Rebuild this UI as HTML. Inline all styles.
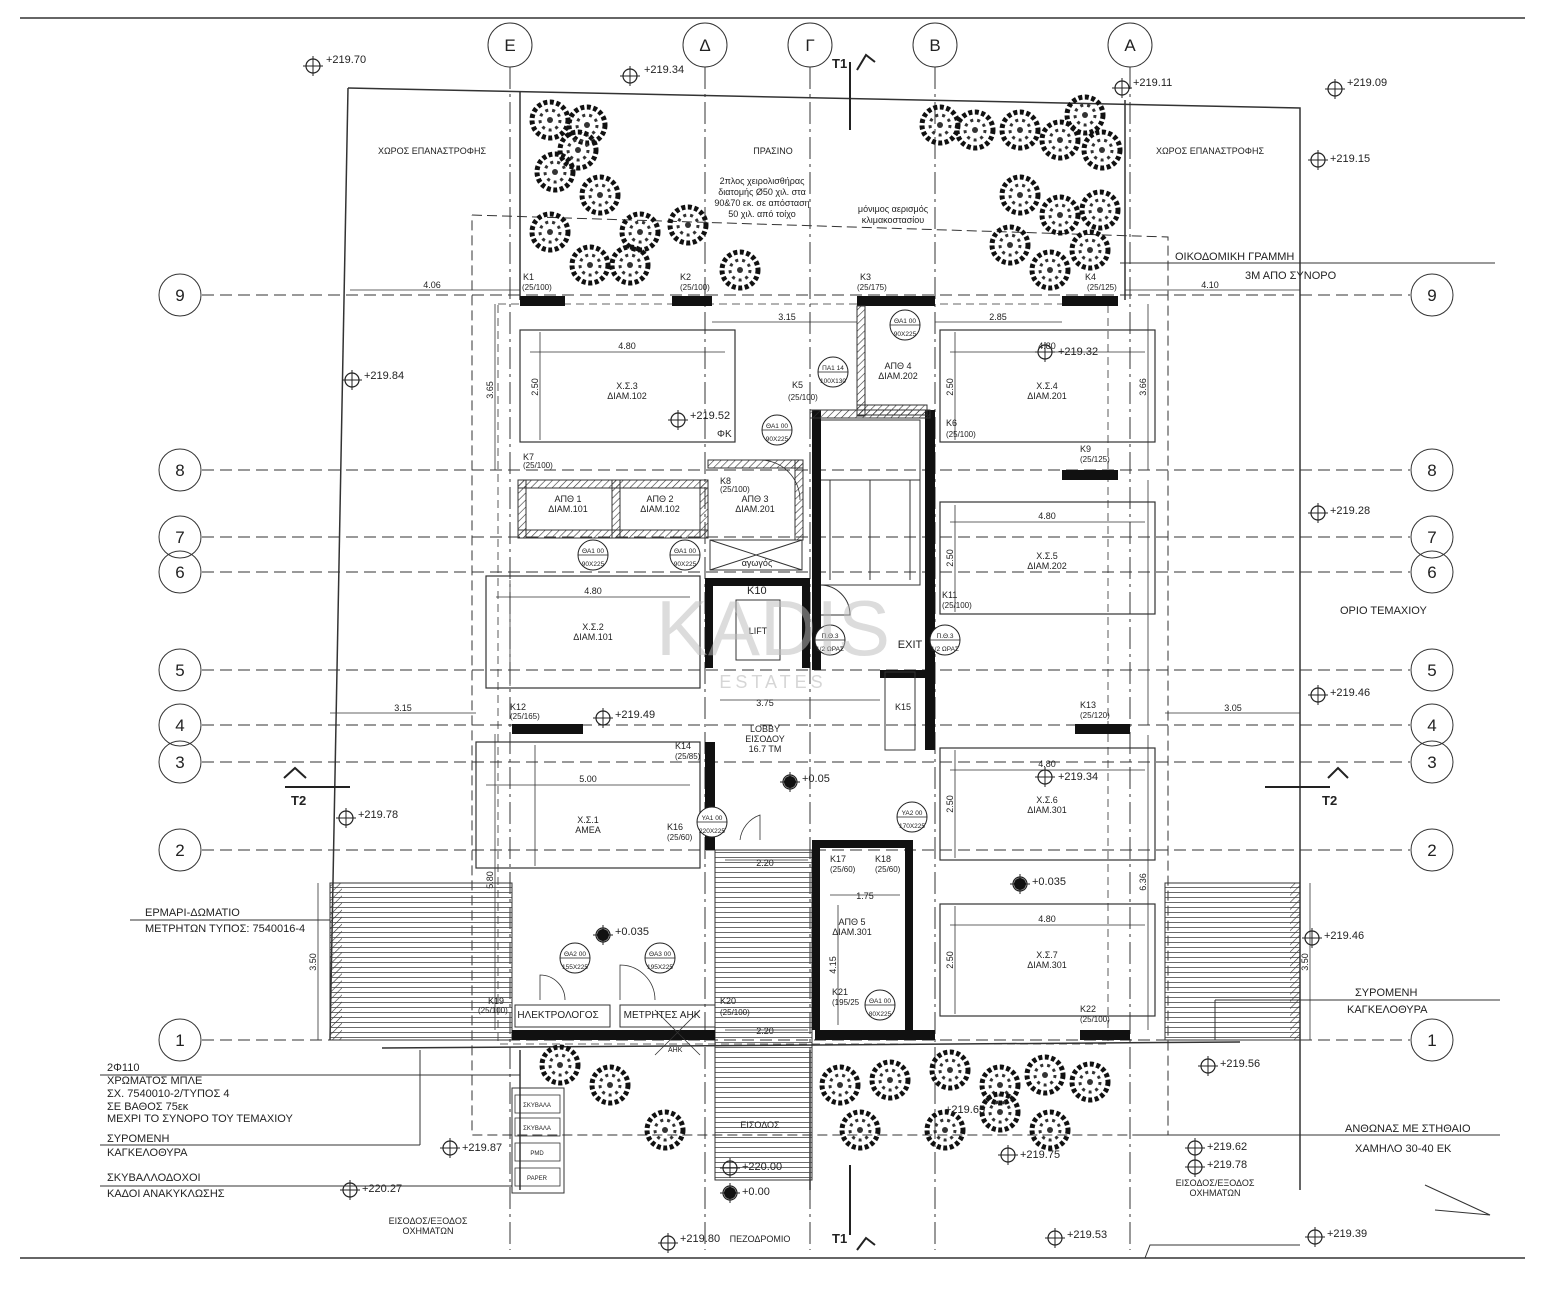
<!DOCTYPE html>
<html><head><meta charset="utf-8">
<style>
html,body{margin:0;padding:0;background:#fff;}
svg{display:block;font-family:"Liberation Sans",sans-serif;}
text{fill:#222;}
</style></head><body>
<svg width="1546" height="1290" viewBox="0 0 1546 1290" xmlns="http://www.w3.org/2000/svg">
<defs>
<pattern id="hl" width="10" height="5" patternUnits="userSpaceOnUse"><line x1="0" y1="2.5" x2="10" y2="2.5" stroke="#444" stroke-width="0.8"/></pattern>
<pattern id="hatch" width="5" height="5" patternUnits="userSpaceOnUse" patternTransform="rotate(45)"><line x1="0" y1="0" x2="0" y2="5" stroke="#333" stroke-width="1.2"/></pattern>
<g id="tree"><circle r="18" fill="none" stroke="#111" stroke-width="5" stroke-dasharray="4 2.5"/><circle r="10" fill="none" stroke="#333" stroke-width="3" stroke-dasharray="3 4"/><circle r="3" fill="#333"/></g>
<g id="lvl"><circle r="7" fill="none" stroke="#222" stroke-width="1.2"/><line x1="-10" y1="0" x2="10" y2="0" stroke="#222"/><line x1="0" y1="-10" x2="0" y2="10" stroke="#222"/></g>
<g id="dr"><circle r="15" fill="#fff" stroke="#222" stroke-width="1"/><line x1="-15" y1="0" x2="15" y2="0" stroke="#222" stroke-width="0.8"/></g>
</defs>

<line x1="20" y1="18" x2="1525" y2="18" stroke="#333" stroke-width="1.5"/>
<line x1="20" y1="1258" x2="1525" y2="1258" stroke="#333" stroke-width="1.5"/>

<g stroke="#333" stroke-width="1" fill="none">
<g stroke-dasharray="22 5 3 5">
<line x1="510" y1="67" x2="510" y2="1250"/><line x1="705" y1="67" x2="705" y2="1250"/>
<line x1="810" y1="67" x2="810" y2="1250"/><line x1="935" y1="67" x2="935" y2="1250"/>
<line x1="1130" y1="67" x2="1130" y2="1250"/>
</g>
<circle cx="510" cy="45" r="22"/><circle cx="705" cy="45" r="22"/><circle cx="810" cy="45" r="22"/><circle cx="935" cy="45" r="22"/><circle cx="1130" cy="45" r="22"/>
</g>
<g font-size="17" text-anchor="middle">
<text x="510" y="51">Ε</text><text x="705" y="51">Δ</text><text x="810" y="51">Γ</text><text x="935" y="51">Β</text><text x="1130" y="51">Α</text>
</g>

<g stroke="#333" stroke-width="1" fill="none">
<g stroke-dasharray="12 6">
<line x1="202" y1="295" x2="1410" y2="295"/><line x1="202" y1="470" x2="1410" y2="470"/>
<line x1="202" y1="537" x2="1410" y2="537"/><line x1="202" y1="572" x2="1410" y2="572"/>
<line x1="202" y1="670" x2="1410" y2="670"/><line x1="202" y1="725" x2="1410" y2="725"/>
<line x1="202" y1="762" x2="1410" y2="762"/><line x1="202" y1="850" x2="1410" y2="850"/>
<line x1="202" y1="1040" x2="1410" y2="1040"/>
</g>
<circle cx="180" cy="295" r="21"/><circle cx="180" cy="470" r="21"/><circle cx="180" cy="537" r="21"/><circle cx="180" cy="572" r="21"/><circle cx="180" cy="670" r="21"/><circle cx="180" cy="725" r="21"/><circle cx="180" cy="762" r="21"/><circle cx="180" cy="850" r="21"/><circle cx="180" cy="1040" r="21"/>
<circle cx="1432" cy="295" r="21"/><circle cx="1432" cy="470" r="21"/><circle cx="1432" cy="537" r="21"/><circle cx="1432" cy="572" r="21"/><circle cx="1432" cy="670" r="21"/><circle cx="1432" cy="725" r="21"/><circle cx="1432" cy="762" r="21"/><circle cx="1432" cy="850" r="21"/><circle cx="1432" cy="1040" r="21"/>
</g>
<g font-size="17" text-anchor="middle">
<text x="180" y="301">9</text><text x="180" y="476">8</text><text x="180" y="543">7</text><text x="180" y="578">6</text><text x="180" y="676">5</text><text x="180" y="731">4</text><text x="180" y="768">3</text><text x="180" y="856">2</text><text x="180" y="1046">1</text>
<text x="1432" y="301">9</text><text x="1432" y="476">8</text><text x="1432" y="543">7</text><text x="1432" y="578">6</text><text x="1432" y="676">5</text><text x="1432" y="731">4</text><text x="1432" y="768">3</text><text x="1432" y="856">2</text><text x="1432" y="1046">1</text>
</g>

<g fill="none" stroke="#333" stroke-width="1.5">
<polyline points="348,88 1300,108 1300,1190"/>
<line x1="348" y1="88" x2="330" y2="1040"/>
<line x1="520" y1="92" x2="520" y2="300"/>
<line x1="1125" y1="100" x2="1125" y2="300"/>
<line x1="382" y1="1048" x2="1240" y2="1042"/>
<line x1="810" y1="1050" x2="810" y2="1190"/>
<line x1="520" y1="1050" x2="520" y2="1190"/>
</g>
<g fill="none" stroke="#333" stroke-width="1" stroke-dasharray="10 5">
<polyline points="472,215 1168,237 1168,1135 472,1135 472,215"/>
</g>

<g>
<use href="#tree" x="550" y="120"/><use href="#tree" x="587" y="125"/><use href="#tree" x="555" y="172"/><use href="#tree" x="600" y="195"/><use href="#tree" x="550" y="232"/><use href="#tree" x="640" y="232"/><use href="#tree" x="590" y="265"/><use href="#tree" x="630" y="265"/><use href="#tree" x="688" y="225"/><use href="#tree" x="740" y="270"/><use href="#tree" x="578" y="150"/>
<use href="#tree" x="940" y="125"/><use href="#tree" x="975" y="130"/><use href="#tree" x="1020" y="130"/><use href="#tree" x="1060" y="140"/><use href="#tree" x="1102" y="150"/><use href="#tree" x="1020" y="195"/><use href="#tree" x="1060" y="215"/><use href="#tree" x="1100" y="210"/><use href="#tree" x="1010" y="245"/><use href="#tree" x="1050" y="270"/><use href="#tree" x="1090" y="250"/><use href="#tree" x="1085" y="115"/>
<use href="#tree" x="560" y="1065"/><use href="#tree" x="610" y="1085"/><use href="#tree" x="665" y="1130"/><use href="#tree" x="840" y="1085"/><use href="#tree" x="890" y="1080"/><use href="#tree" x="950" y="1070"/><use href="#tree" x="1000" y="1085"/><use href="#tree" x="1045" y="1075"/><use href="#tree" x="1090" y="1082"/><use href="#tree" x="945" y="1130"/><use href="#tree" x="1000" y="1112"/><use href="#tree" x="1050" y="1130"/><use href="#tree" x="860" y="1130"/>
</g>

<g fill="none" stroke="#333" stroke-width="1.2">
<rect x="520" y="330" width="215" height="112"/><rect x="940" y="330" width="215" height="112"/>
<rect x="940" y="502" width="215" height="112"/><rect x="486" y="576" width="214" height="112"/>
<rect x="940" y="748" width="215" height="112"/><rect x="476" y="742" width="224" height="126"/>
<rect x="940" y="904" width="215" height="112"/>
<rect x="498" y="304" width="610" height="740" stroke-dasharray="8 5" stroke-width="0.8"/>
</g>

<!-- dimension lines -->
<g stroke="#333" stroke-width="0.8" fill="none">
<line x1="350" y1="290" x2="520" y2="290"/><line x1="1125" y1="290" x2="1300" y2="290"/>
<line x1="712" y1="322" x2="857" y2="322"/><line x1="935" y1="322" x2="1062" y2="322"/>
<line x1="530" y1="352" x2="725" y2="352"/><line x1="950" y1="352" x2="1145" y2="352"/>
<line x1="950" y1="522" x2="1145" y2="522"/><line x1="496" y1="597" x2="690" y2="597"/>
<line x1="950" y1="770" x2="1145" y2="770"/><line x1="486" y1="785" x2="690" y2="785"/>
<line x1="950" y1="925" x2="1145" y2="925"/>
<line x1="330" y1="713" x2="476" y2="713"/><line x1="1165" y1="713" x2="1300" y2="713"/>
<line x1="495" y1="304" x2="495" y2="470"/><line x1="495" y1="734" x2="495" y2="1030"/>
<line x1="318" y1="883" x2="318" y2="1040"/><line x1="1310" y1="883" x2="1310" y2="1040"/>
<line x1="1148" y1="304" x2="1148" y2="470"/><line x1="1148" y1="735" x2="1148" y2="1030"/>
<line x1="1148" y1="480" x2="1148" y2="725"/>
<line x1="540" y1="332" x2="540" y2="440"/><line x1="955" y1="332" x2="955" y2="440"/><line x1="955" y1="505" x2="955" y2="612"/><line x1="955" y1="750" x2="955" y2="858"/><line x1="955" y1="906" x2="955" y2="1014"/><line x1="510" y1="580" x2="510" y2="686"/><line x1="535" y1="745" x2="535" y2="866"/>
<line x1="720" y1="700" x2="880" y2="700"/><line x1="725" y1="860" x2="808" y2="860"/><line x1="725" y1="1030" x2="808" y2="1030"/>
<line x1="830" y1="895" x2="900" y2="895"/><line x1="838" y1="905" x2="838" y2="1025"/>
</g>
<g font-size="9" text-anchor="middle">
<text x="432" y="288">4.06</text><text x="1210" y="288">4.10</text><text x="787" y="320">3.15</text><text x="998" y="320">2.85</text>
<text x="627" y="349">4.80</text><text x="1047" y="349">4.80</text><text x="1047" y="519">4.80</text><text x="593" y="594">4.80</text><text x="1047" y="767">4.80</text><text x="588" y="782">5.00</text><text x="1047" y="922">4.80</text>
<text x="403" y="711">3.15</text><text x="1233" y="711">3.05</text><text x="765" y="706">3.75</text><text x="765" y="866">2.20</text><text x="765" y="1034">2.20</text><text x="865" y="899">1.75</text>
<text x="493" y="390" transform="rotate(-90 493 390)">3.65</text><text x="493" y="880" transform="rotate(-90 493 880)">5.80</text>
<text x="316" y="962" transform="rotate(-90 316 962)">3.50</text><text x="1308" y="962" transform="rotate(-90 1308 962)">3.50</text>
<text x="1146" y="387" transform="rotate(-90 1146 387)">3.66</text><text x="1146" y="882" transform="rotate(-90 1146 882)">6.36</text>
<text x="538" y="387" transform="rotate(-90 538 387)">2.50</text><text x="953" y="387" transform="rotate(-90 953 387)">2.50</text><text x="953" y="558" transform="rotate(-90 953 558)">2.50</text><text x="953" y="804" transform="rotate(-90 953 804)">2.50</text><text x="953" y="960" transform="rotate(-90 953 960)">2.50</text>
<text x="836" y="965" transform="rotate(-90 836 965)">4.15</text>
</g>

<rect x="330" y="883" width="182" height="157" fill="url(#hl)" stroke="#333"/>
<rect x="1165" y="883" width="135" height="157" fill="url(#hl)" stroke="#333"/>
<rect x="330" y="883" width="12" height="157" fill="url(#hatch)"/>
<rect x="1290" y="883" width="10" height="157" fill="url(#hatch)"/>
<rect x="715" y="850" width="97" height="330" fill="url(#hl)" stroke="#333"/>
<rect x="820" y="420" width="100" height="165" fill="none" stroke="#333"/>
<g stroke="#333"><line x1="830" y1="480" x2="830" y2="580"/><line x1="870" y1="480" x2="870" y2="580"/><line x1="910" y1="480" x2="910" y2="580"/><line x1="820" y1="480" x2="920" y2="480"/></g>
<path d="M820,585 A30,30 0 0 1 850,615 L820,615" fill="none" stroke="#333"/>

<g fill="#111">
<rect x="520" y="296" width="45" height="10"/><rect x="672" y="296" width="40" height="10"/><rect x="857" y="296" width="78" height="10"/><rect x="1062" y="296" width="56" height="10"/>
<rect x="1062" y="470" width="56" height="10"/>
<rect x="512" y="724" width="71" height="10"/><rect x="1075" y="724" width="55" height="10"/>
<rect x="512" y="1030" width="203" height="10"/><rect x="815" y="1030" width="120" height="10"/><rect x="1080" y="1030" width="50" height="10"/>
<rect x="705" y="742" width="10" height="108"/><rect x="812" y="410" width="9" height="260"/><rect x="925" y="410" width="10" height="340"/>
<rect x="705" y="578" width="105" height="8"/><rect x="705" y="578" width="8" height="90"/><rect x="802" y="578" width="8" height="90"/>
<rect x="812" y="840" width="8" height="190"/><rect x="905" y="840" width="8" height="190"/><rect x="812" y="840" width="100" height="8"/>
<rect x="880" y="670" width="45" height="8"/>
</g>
<g fill="url(#hatch)" stroke="#333">
<rect x="518" y="480" width="190" height="8"/><rect x="518" y="480" width="8" height="58"/><rect x="612" y="480" width="8" height="58"/><rect x="700" y="480" width="8" height="58"/><rect x="518" y="530" width="190" height="8"/>
<rect x="708" y="460" width="95" height="8"/><rect x="795" y="460" width="8" height="80"/>
<rect x="857" y="306" width="8" height="110"/><rect x="857" y="405" width="70" height="10"/><rect x="810" y="410" width="120" height="8"/>
<rect x="885" y="672" width="30" height="78" fill="none"/>
</g>
<rect x="710" y="540" width="92" height="30" fill="none" stroke="#333"/>
<line x1="710" y1="540" x2="802" y2="570" stroke="#333"/><line x1="802" y1="540" x2="710" y2="570" stroke="#333"/>
<rect x="736" y="600" width="44" height="60" fill="none" stroke="#333"/>
<rect x="515" y="1005" width="95" height="22" fill="none" stroke="#333"/>
<rect x="620" y="1005" width="95" height="22" fill="none" stroke="#333"/>
<rect x="512" y="1088" width="52" height="105" fill="none" stroke="#333"/>
<g fill="none" stroke="#333" stroke-width="0.8"><rect x="515" y="1095" width="45" height="18"/><rect x="515" y="1118" width="45" height="18"/><rect x="515" y="1143" width="45" height="18"/><rect x="515" y="1168" width="45" height="18"/></g>
<g font-size="6" text-anchor="middle"><text x="537" y="1107">ΣΚΥΒΑΛΑ</text><text x="537" y="1130">ΣΚΥΒΑΛΑ</text><text x="537" y="1155">PMD</text><text x="537" y="1180">PAPER</text></g>

<!-- door swings -->
<g fill="none" stroke="#333" stroke-width="0.8">
<path d="M760,460 A40,40 0 0 1 800,500"/><path d="M740,840 A30,30 0 0 1 760,815 L760,840"/>
<path d="M540,1000 L540,975 A25,25 0 0 1 565,1000"/><path d="M620,1000 L620,965 A35,35 0 0 1 655,1000"/>
<line x1="655" y1="1010" x2="700" y2="1055"/><line x1="700" y1="1010" x2="655" y2="1055"/>
</g>
<text x="668" y="1052" font-size="7">ΑΗΚ</text>

<!-- door tags -->
<g>
<use href="#dr" x="593" y="555"/><use href="#dr" x="685" y="555"/><use href="#dr" x="777" y="430"/><use href="#dr" x="905" y="325"/><use href="#dr" x="833" y="372"/><use href="#dr" x="830" y="640"/><use href="#dr" x="945" y="640"/><use href="#dr" x="712" y="822"/><use href="#dr" x="912" y="817"/><use href="#dr" x="575" y="958"/><use href="#dr" x="660" y="958"/><use href="#dr" x="880" y="1005"/>
</g>
<g font-size="6.5" text-anchor="middle">
<text x="593" y="553">ΘΑ1 00</text><text x="593" y="566">90X225</text><text x="685" y="553">ΘΑ1 00</text><text x="685" y="566">90X225</text>
<text x="777" y="428">ΘΑ1 00</text><text x="777" y="441">90X225</text><text x="905" y="323">ΘΑ1 00</text><text x="905" y="336">90X225</text>
<text x="833" y="370">ΠΑ1 14</text><text x="833" y="383">100X130</text><text x="830" y="638">Π.Θ.3</text><text x="830" y="651">1/2 ΩΡΑΣ</text>
<text x="945" y="638">Π.Θ.3</text><text x="945" y="651">1/2 ΩΡΑΣ</text><text x="712" y="820">ΥΑ1 00</text><text x="712" y="833">220X225</text>
<text x="912" y="815">ΥΑ2 00</text><text x="912" y="828">170X225</text><text x="575" y="956">ΘΑ2 00</text><text x="575" y="969">155X225</text>
<text x="660" y="956">ΘΑ3 00</text><text x="660" y="969">195X225</text><text x="880" y="1003">ΘΑ1 00</text><text x="880" y="1016">80X225</text>
</g>
<text x="717" y="437" font-size="10">ΦΚ</text>

<g stroke="#222" stroke-width="2" fill="none">
<line x1="850" y1="62" x2="850" y2="130"/><line x1="850" y1="1165" x2="850" y2="1235"/>
<polyline points="857,70 866,55 875,62"/><polyline points="857,1250 866,1238 875,1245"/>
<polyline points="284,778 295,768 306,778"/><polyline points="1328,778 1338,768 1348,778"/>
<line x1="285" y1="787" x2="350" y2="787"/><line x1="1265" y1="787" x2="1330" y2="787"/>
</g>
<g font-size="13" font-weight="bold"><text x="832" y="68">T1</text><text x="832" y="1243">T1</text><text x="291" y="805">T2</text><text x="1322" y="805">T2</text></g>

<g>
<use href="#lvl" x="313" y="66"/><use href="#lvl" x="630" y="76"/><use href="#lvl" x="1122" y="88"/><use href="#lvl" x="1335" y="89"/><use href="#lvl" x="1318" y="160"/>
<use href="#lvl" x="352" y="380"/><use href="#lvl" x="678" y="420"/><use href="#lvl" x="1045" y="352"/><use href="#lvl" x="1318" y="513"/>
<use href="#lvl" x="603" y="718"/><use href="#lvl" x="1318" y="695"/><use href="#lvl" x="1045" y="777"/><use href="#lvl" x="790" y="782"/>
<use href="#lvl" x="346" y="818"/><use href="#lvl" x="1020" y="884"/><use href="#lvl" x="603" y="935"/><use href="#lvl" x="1312" y="938"/>
<use href="#lvl" x="1208" y="1066"/><use href="#lvl" x="450" y="1148"/><use href="#lvl" x="350" y="1190"/><use href="#lvl" x="1195" y="1148"/><use href="#lvl" x="1008" y="1155"/><use href="#lvl" x="1195" y="1167"/>
<use href="#lvl" x="730" y="1168"/><use href="#lvl" x="730" y="1193"/><use href="#lvl" x="668" y="1243"/><use href="#lvl" x="1055" y="1238"/><use href="#lvl" x="1315" y="1237"/>
</g>
<circle cx="790" cy="782" r="6" fill="#111"/><circle cx="1020" cy="884" r="6" fill="#111"/><circle cx="603" cy="935" r="6" fill="#111"/><circle cx="730" cy="1193" r="6" fill="#111"/>
<g font-size="11">
<text x="326" y="63">+219.70</text><text x="644" y="73">+219.34</text><text x="1133" y="86">+219.11</text><text x="1347" y="86">+219.09</text><text x="1330" y="162">+219.15</text>
<text x="364" y="379">+219.84</text><text x="690" y="419">+219.52</text><text x="1058" y="355">+219.32</text><text x="1330" y="514">+219.28</text>
<text x="615" y="718">+219.49</text><text x="1330" y="696">+219.46</text><text x="1058" y="780">+219.34</text><text x="802" y="782">+0.05</text>
<text x="358" y="818">+219.78</text><text x="1032" y="885">+0.035</text><text x="615" y="935">+0.035</text><text x="1324" y="939">+219.46</text>
<text x="1220" y="1067">+219.56</text><text x="462" y="1151">+219.87</text><text x="362" y="1192">+220.27</text><text x="1207" y="1150">+219.62</text><text x="1020" y="1158">+219.75</text><text x="1207" y="1168">+219.78</text>
<text x="742" y="1170">+220.00</text><text x="742" y="1195">+0.00</text><text x="680" y="1242">+219.80</text><text x="1067" y="1238">+219.53</text><text x="1327" y="1237">+219.39</text>
<text x="945" y="1113">+219.65</text>
</g>

<g font-size="9" text-anchor="middle">
<text x="432" y="154">ΧΩΡΟΣ ΕΠΑΝΑΣΤΡΟΦΗΣ</text><text x="773" y="154">ΠΡΑΣΙΝΟ</text><text x="1210" y="154">ΧΩΡΟΣ ΕΠΑΝΑΣΤΡΟΦΗΣ</text>
<text x="762" y="184">2πλος χειρολισθήρας</text><text x="762" y="195">διατομής Ø50 χιλ. στα</text><text x="762" y="206">90&amp;70 εκ. σε απόσταση</text><text x="762" y="217">50 χιλ. από τοίχο</text>
<text x="893" y="212">μόνιμος αερισμός</text><text x="893" y="223">κλιμακοστασίου</text>
<text x="627" y="389">Χ.Σ.3</text><text x="627" y="399">ΔΙΑΜ.102</text><text x="1047" y="389">Χ.Σ.4</text><text x="1047" y="399">ΔΙΑΜ.201</text>
<text x="1047" y="559">Χ.Σ.5</text><text x="1047" y="569">ΔΙΑΜ.202</text><text x="593" y="630">Χ.Σ.2</text><text x="593" y="640">ΔΙΑΜ.101</text>
<text x="1047" y="803">Χ.Σ.6</text><text x="1047" y="813">ΔΙΑΜ.301</text><text x="588" y="823">Χ.Σ.1</text><text x="588" y="833">ΑΜΕΑ</text>
<text x="1047" y="958">Χ.Σ.7</text><text x="1047" y="968">ΔΙΑΜ.301</text>
<text x="568" y="502">ΑΠΘ 1</text><text x="568" y="512">ΔΙΑΜ.101</text><text x="660" y="502">ΑΠΘ 2</text><text x="660" y="512">ΔΙΑΜ.102</text>
<text x="755" y="502">ΑΠΘ 3</text><text x="755" y="512">ΔΙΑΜ.201</text><text x="898" y="369">ΑΠΘ 4</text><text x="898" y="379">ΔΙΑΜ.202</text>
<text x="852" y="925">ΑΠΘ 5</text><text x="852" y="935">ΔΙΑΜ.301</text>
<text x="765" y="732">LOBBY</text><text x="765" y="742">ΕΙΣΟΔΟΥ</text><text x="765" y="752">16.7 ΤΜ</text>
<text x="758" y="634">LIFT</text><text x="910" y="648" font-size="11">EXIT</text><text x="757" y="566">αγωγός</text>
<text x="558" y="1018" font-size="10">ΗΛΕΚΤΡΟΛΟΓΟΣ</text><text x="662" y="1018" font-size="10">ΜΕΤΡΗΤΕΣ ΑΗΚ</text>
<text x="760" y="1128">ΕΙΣΟΔΟΣ</text><text x="760" y="1242">ΠΕΖΟΔΡΟΜΙΟ</text>
<text x="428" y="1224">ΕΙΣΟΔΟΣ/ΕΞΟΔΟΣ</text><text x="428" y="1234">ΟΧΗΜΑΤΩΝ</text>
<text x="1215" y="1186">ΕΙΣΟΔΟΣ/ΕΞΟΔΟΣ</text><text x="1215" y="1196">ΟΧΗΜΑΤΩΝ</text>
</g>
<g font-size="9">
<text x="523" y="280">K1</text><text x="680" y="280">K2</text><text x="860" y="280">K3</text><text x="1085" y="280">K4</text>
<text x="522" y="290" font-size="8">(25/100)</text><text x="680" y="290" font-size="8">(25/100)</text><text x="857" y="290" font-size="8">(25/175)</text><text x="1087" y="290" font-size="8">(25/125)</text>
<text x="792" y="388">K5</text><text x="946" y="426">K6</text><text x="523" y="460">K7</text><text x="720" y="484">K8</text><text x="1080" y="452">K9</text>
<text x="788" y="400" font-size="8">(25/100)</text><text x="946" y="437" font-size="8">(25/100)</text><text x="523" y="468" font-size="8">(25/100)</text><text x="720" y="492" font-size="8">(25/100)</text><text x="1080" y="462" font-size="8">(25/125)</text>
<text x="747" y="594" font-size="11">K10</text><text x="942" y="598">K11</text><text x="510" y="710">K12</text><text x="1080" y="708">K13</text><text x="675" y="749">K14</text><text x="895" y="710">K15</text>
<text x="942" y="608" font-size="8">(25/100)</text><text x="510" y="719" font-size="8">(25/165)</text><text x="1080" y="718" font-size="8">(25/120)</text><text x="675" y="759" font-size="8">(25/85)</text><text x="667" y="840" font-size="8">(25/60)</text>
<text x="667" y="830">K16</text><text x="830" y="862">K17</text><text x="875" y="862">K18</text><text x="488" y="1004">K19</text><text x="720" y="1004">K20</text><text x="832" y="995">K21</text><text x="1080" y="1012">K22</text>
<text x="478" y="1013" font-size="8">(25/100)</text><text x="720" y="1015" font-size="8">(25/100)</text><text x="1080" y="1022" font-size="8">(25/100)</text><text x="830" y="872" font-size="8">(25/60)</text><text x="875" y="872" font-size="8">(25/60)</text><text x="832" y="1005" font-size="8">(195/25</text>
</g>
<g font-size="11">
<text x="1175" y="260">ΟΙΚΟΔΟΜΙΚΗ ΓΡΑΜΜΗ</text><text x="1245" y="279">3Μ ΑΠΟ ΣΥΝΟΡΟ</text>
<text x="1340" y="614">ΟΡΙΟ ΤΕΜΑΧΙΟΥ</text>
<text x="1355" y="996">ΣΥΡΟΜΕΝΗ</text><text x="1347" y="1013">ΚΑΓΚΕΛΟΘΥΡΑ</text>
<text x="1345" y="1132">ΑΝΘΩΝΑΣ ΜΕ ΣΤΗΘΑΙΟ</text><text x="1355" y="1152">ΧΑΜΗΛΟ 30-40 ΕΚ</text>
<text x="145" y="916">ΕΡΜΑΡΙ-ΔΩΜΑΤΙΟ</text><text x="145" y="932">ΜΕΤΡΗΤΩΝ ΤΥΠΟΣ: 7540016-4</text>
<text x="107" y="1071">2Φ110</text><text x="107" y="1084">ΧΡΩΜΑΤΟΣ ΜΠΛΕ</text><text x="107" y="1097">ΣΧ. 7540010-2/ΤΥΠΟΣ 4</text><text x="107" y="1110">ΣΕ ΒΑΘΟΣ 75εκ</text><text x="107" y="1122">ΜΕΧΡΙ ΤΟ ΣΥΝΟΡΟ ΤΟΥ ΤΕΜΑΧΙΟΥ</text>
<text x="107" y="1142">ΣΥΡΟΜΕΝΗ</text><text x="107" y="1156">ΚΑΓΚΕΛΟΘΥΡΑ</text>
<text x="107" y="1181">ΣΚΥΒΑΛΛΟΔΟΧΟΙ</text><text x="107" y="1197">ΚΑΔΟΙ ΑΝΑΚΥΚΛΩΣΗΣ</text>
</g>
<g stroke="#333" fill="none" stroke-width="1">
<line x1="1120" y1="263" x2="1495" y2="263"/><line x1="130" y1="920" x2="330" y2="920"/><line x1="100" y1="1075" x2="520" y2="1075"/><line x1="100" y1="1145" x2="420" y2="1145"/><line x1="420" y1="1050" x2="420" y2="1145"/><line x1="100" y1="1186" x2="512" y2="1186"/>
<line x1="1215" y1="1000" x2="1500" y2="1000"/><line x1="1215" y1="1000" x2="1215" y2="1040"/><line x1="1140" y1="1135" x2="1500" y2="1135"/>
<polyline points="1425,1185 1490,1215 1435,1210"/>
<polyline points="1145,1258 1150,1245 1300,1245"/>
</g>
<text x="773" y="655" font-size="78" text-anchor="middle" style="fill:#bbb;opacity:.5">KADIS</text>
<text x="773" y="688" font-size="18" text-anchor="middle" style="fill:#bbb;opacity:.6" letter-spacing="4">ESTATES</text>
</svg>
</body></html>
